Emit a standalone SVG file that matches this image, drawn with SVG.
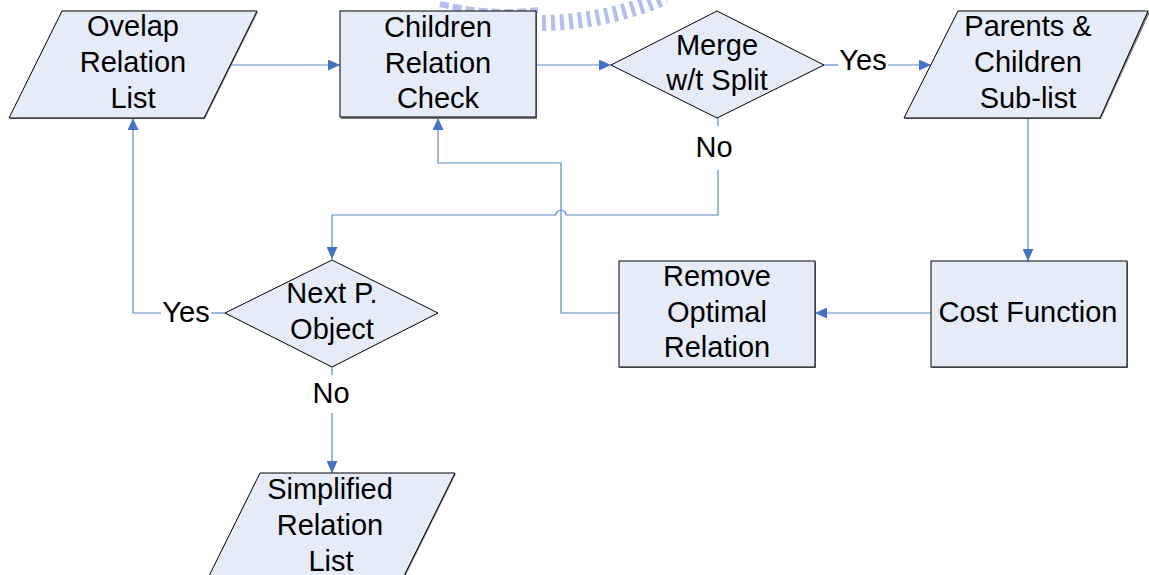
<svg xmlns="http://www.w3.org/2000/svg" width="1149" height="575" viewBox="0 0 1149 575">
  <defs>
    <marker id="arrow" markerUnits="userSpaceOnUse" markerWidth="12" markerHeight="11" refX="12" refY="5.5" orient="auto">
      <path d="M0,0 L12,5.5 L0,11 Z" fill="#4472C4"/>
    </marker>
  </defs>
  <style>
    .shape { fill: #E6ECF7; stroke: #000; stroke-width: 1; }
    .shadow { fill: #7F7F7F; }
    .lbl { font-family: "Liberation Sans", Arial, sans-serif; font-size: 29px; fill: #000; text-anchor: middle; }
    .conn { fill: none; stroke: #5B87C8; stroke-width: 1.2; }
    .mark { fill: none; stroke: #5B87C8; stroke-width: 1.2; marker-end: url(#arrow); }
    .logo { fill: none; stroke: #7F93E0; opacity: 0.6; }
  </style>

  <rect width="1149" height="575" fill="#fff"/>

  <!-- faint seal emblem along the top edge -->
  <g id="seal">
    <path class="logo" d="M542,23 A322,322 0 0 0 665,-3" stroke-width="16" stroke-dasharray="4 5"/>
    <path class="logo" d="M440,4 Q490,16 538,10" stroke-width="6" stroke-dasharray="9 4" opacity="0.3"/>
  </g>

  <g id="connectors">
    <!-- Ovelap list -> Children check -->
    <line class="mark" x1="231" y1="65" x2="340" y2="65"/>
    <!-- Children check -> Merge -->
    <line class="mark" x1="536" y1="65" x2="611" y2="65"/>
    <!-- Merge Yes -> Parents & Children -->
    <line class="conn" x1="824" y1="65" x2="838" y2="65"/>
    <line class="mark" x1="888" y1="65" x2="931" y2="65"/>
    <!-- Merge No -> Next P. Object (hops over the return line) -->
    <line class="conn" x1="718" y1="118" x2="718" y2="126"/>
    <path class="mark" d="M718,170 L718,215 L566,215 A5,5 0 0 0 556,215 L332,215 L332,259"/>
    <!-- Parents & Children -> Cost Function -->
    <line class="mark" x1="1028" y1="118" x2="1028" y2="261"/>
    <!-- Cost Function -> Remove -->
    <line class="mark" x1="931" y1="313" x2="815" y2="313"/>
    <!-- Remove -> Children check -->
    <path class="mark" d="M619,313 L561,313 L561,163 L438,163 L438,118"/>
    <!-- Next Yes -> Ovelap list -->
    <line class="conn" x1="225" y1="313" x2="211" y2="313"/>
    <path class="mark" d="M161,313 L133,313 L133,118"/>
    <!-- Next No -> Simplified list -->
    <line class="conn" x1="332" y1="367" x2="332" y2="375"/>
    <line class="mark" x1="332" y1="413" x2="332" y2="473"/>
  </g>

  <g id="overlap-list">
    <polygon class="shadow" points="63,12 258,12 205,119 10,119"/>
    <polygon class="shape" points="62,11 257,11 204,118 9,118"/>
    <text class="lbl" x="133" y="36">Ovelap</text>
    <text class="lbl" x="133" y="72">Relation</text>
    <text class="lbl" x="133" y="108">List</text>
  </g>

  <g id="children-check">
    <rect class="shadow" x="341" y="12" width="196" height="107"/>
    <rect class="shape" x="340" y="11" width="196" height="106"/>
    <text class="lbl" x="438" y="37">Children</text>
    <text class="lbl" x="438" y="73">Relation</text>
    <text class="lbl" x="438" y="108">Check</text>
  </g>

  <g id="merge-decision">
    <polygon class="shape" points="717,11 824,65 717,118 611,65"/>
    <text class="lbl" x="717" y="55">Merge</text>
    <text class="lbl" x="717" y="90">w/t Split</text>
  </g>
  <text class="lbl" x="863" y="70">Yes</text>
  <text class="lbl" x="714" y="157">No</text>

  <g id="parents-children-list">
    <polygon class="shadow" points="959,12 1150,12 1101,119 905,119"/>
    <polygon class="shape" points="958,11 1148,11 1100,118 904,118"/>
    <text class="lbl" x="1028" y="36">Parents &amp;</text>
    <text class="lbl" x="1028" y="72">Children</text>
    <text class="lbl" x="1028" y="108">Sub-list</text>
  </g>

  <g id="cost-function">
    <rect class="shadow" x="932" y="262" width="196" height="106"/>
    <rect class="shape" x="931" y="261" width="196" height="106"/>
    <text class="lbl" x="1028" y="322">Cost Function</text>
  </g>

  <g id="remove-optimal">
    <rect class="shadow" x="620" y="262" width="196" height="106"/>
    <rect class="shape" x="619" y="261" width="196" height="106"/>
    <text class="lbl" x="717" y="286">Remove</text>
    <text class="lbl" x="717" y="322">Optimal</text>
    <text class="lbl" x="717" y="357">Relation</text>
  </g>

  <g id="next-object">
    <polygon class="shape" points="332,260 438,313 332,367 225,313"/>
    <text class="lbl" x="332" y="303">Next P.</text>
    <text class="lbl" x="332" y="339">Object</text>
  </g>
  <text class="lbl" x="186" y="322">Yes</text>
  <text class="lbl" x="331" y="403">No</text>

  <g id="simplified-list">
    <polygon class="shadow" points="261,474 456,474 403,581 208,581"/>
    <polygon class="shape" points="260,473 455,473 402,580 207,580"/>
    <text class="lbl" x="330" y="499">Simplified</text>
    <text class="lbl" x="330" y="535">Relation</text>
    <text class="lbl" x="331" y="571">List</text>
  </g>
</svg>
